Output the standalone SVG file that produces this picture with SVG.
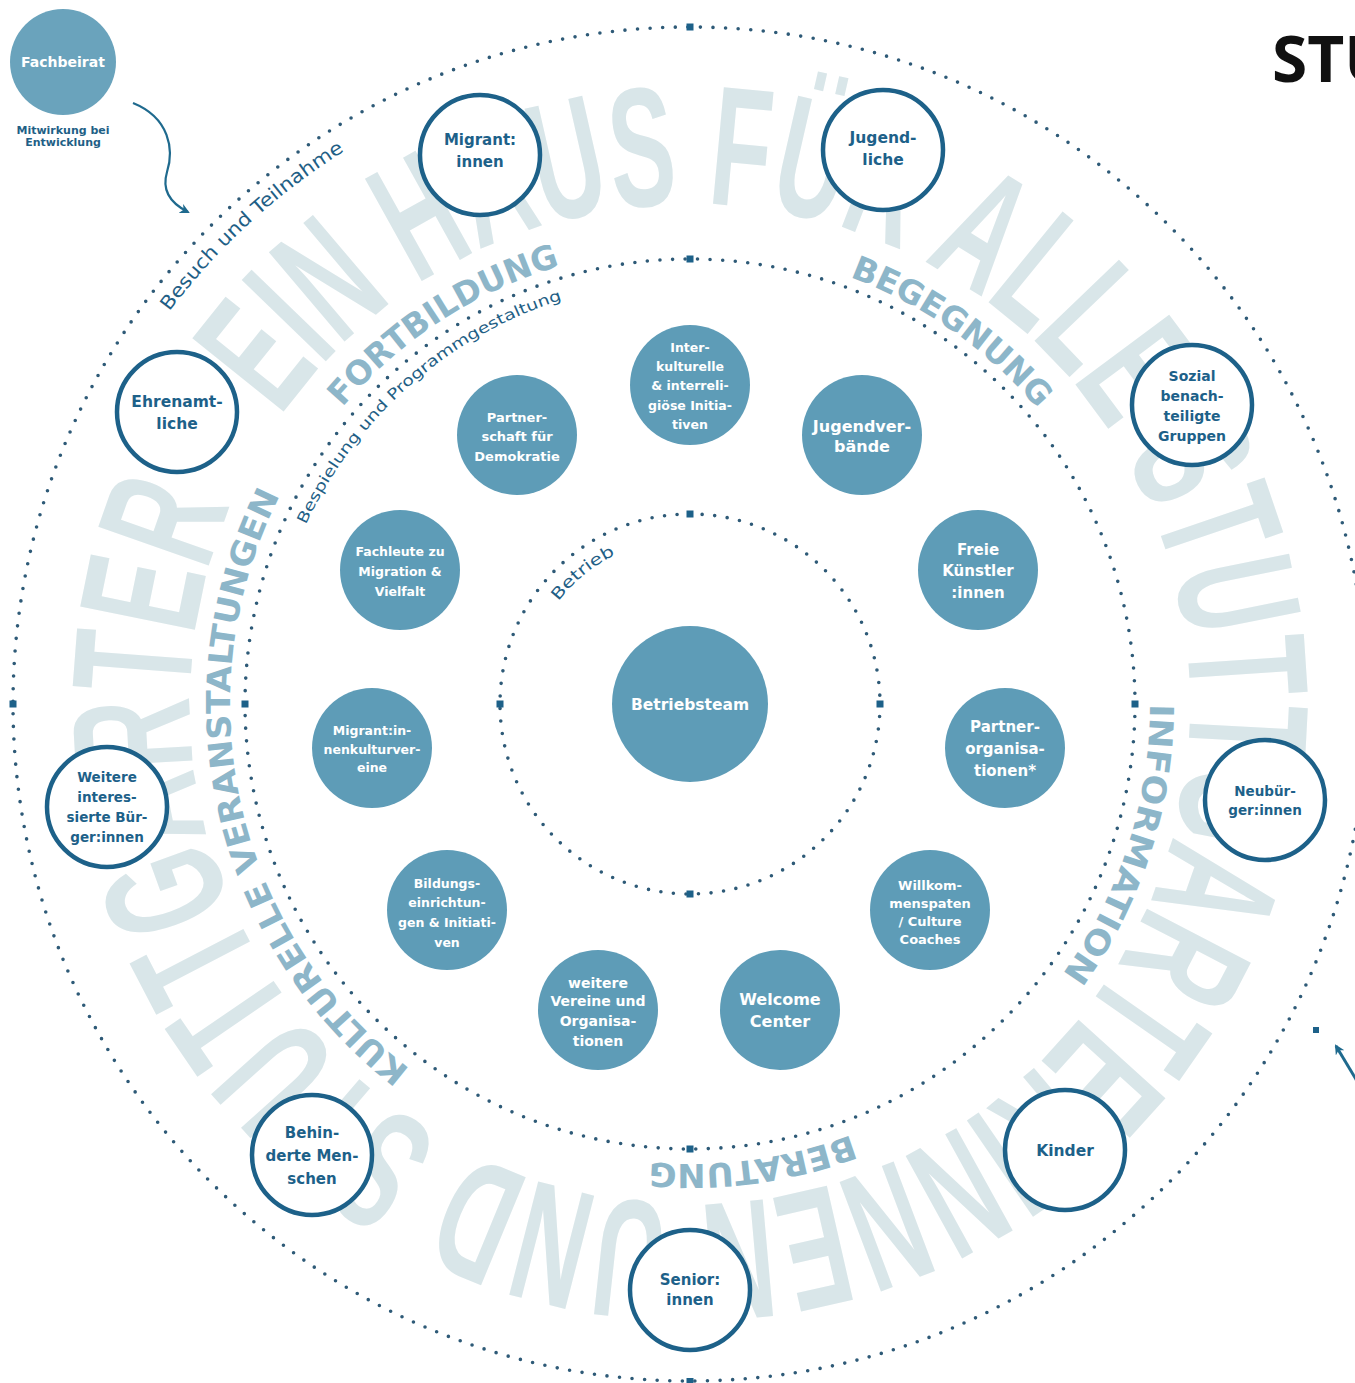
<svg xmlns="http://www.w3.org/2000/svg" width="1355" height="1383" viewBox="0 0 1355 1383">
<style>
.dot{fill:none;stroke:#2e5a77;stroke-width:3.6;stroke-linecap:round;stroke-dasharray:0 12.6}
.fn{fill:#5e9cb7}
.on{fill:#fff;stroke:#1d6189;stroke-width:4.5}
.nt{fill:#fff;font-family:"DejaVu Sans",sans-serif;font-weight:bold;text-anchor:middle}
.ot{fill:#1d6189;font-family:"DejaVu Sans",sans-serif;font-weight:bold;text-anchor:middle}
.big{fill:#d9e6e9;font-family:"Liberation Sans",sans-serif;font-weight:bold;font-size:170px}
.ring{fill:#8db6c9;font-family:"DejaVu Sans",sans-serif;font-weight:bold;font-size:33px}
.sm{fill:#1f5f86;font-family:"DejaVu Sans",sans-serif}
.sq{fill:#1d6189}
</style>
<defs>
<path id="pBig" d="M280.4,417.2 A500,500 0 1 1 1099.6,990.8 A500,500 0 1 1 280.4,417.2"/>
<path id="pBesuch" d="M169.3,311.6 A652,652 0 0 1 445.8,99.5"/>
<path id="pBesp" d="M305.7,524.8 A424,424 0 0 1 620,285.8"/>
<path id="pBetr" d="M558.4,601.2 A167,167 0 0 1 644,543.5"/>
<path id="pFort" d="M342.5,407.2 A457,457 0 0 1 637.5,250"/>
<path id="pBeg" d="M849.7,276.9 A456,456 0 0 1 1084.9,476"/>
<path id="pInfo" d="M1150,704 A460,460 0 0 1 1009.6,1034.9"/>
<path id="pBer" d="M851.1,1134.9 A460,460 0 0 1 571,1148.3"/>
<path id="pKult" d="M410,1069 A460,460 0 0 1 322.6,427.2"/>
<marker id="ah" viewBox="0 0 10 10" refX="8" refY="5" markerWidth="10" markerHeight="10" markerUnits="userSpaceOnUse" orient="auto">
<path d="M0,0 L10,5 L0,10 L3,5 Z" fill="#1f6a8e"/>
</marker>
</defs>
<rect width="1355" height="1383" fill="#fff"/>

<g id="background-text">
<text class="big"><textPath href="#pBig" textLength="3040" lengthAdjust="spacingAndGlyphs">EIN HAUS FÜR ALLE STUTTGARTERINNEN UND STUTTGARTER</textPath></text>
</g>

<g id="rings">
<circle class="dot" cx="690" cy="704" r="677"/>
<circle class="dot" cx="690" cy="704" r="445"/>
<circle class="dot" cx="690" cy="704" r="190"/>
<rect class="sq" x="686.5" y="23.5" width="7" height="7"/>
<rect class="sq" x="9.5" y="700.5" width="7" height="7"/>
<rect class="sq" x="686.5" y="1378" width="7" height="7"/>
<rect class="sq" x="686.5" y="255.5" width="7" height="7"/>
<rect class="sq" x="241.5" y="700.5" width="7" height="7"/>
<rect class="sq" x="1131.5" y="700.5" width="7" height="7"/>
<rect class="sq" x="686.5" y="1145.5" width="7" height="7"/>
<rect class="sq" x="686.5" y="510.5" width="7" height="7"/>
<rect class="sq" x="496.5" y="700.5" width="7" height="7"/>
<rect class="sq" x="876.5" y="700.5" width="7" height="7"/>
<rect class="sq" x="686.5" y="890.5" width="7" height="7"/>
</g>

<g id="ring-labels">
<text class="ring"><textPath href="#pFort" textLength="263" lengthAdjust="spacingAndGlyphs">FORTBILDUNG</textPath></text>
<text class="ring"><textPath href="#pBeg" textLength="232" lengthAdjust="spacingAndGlyphs">BEGEGNUNG</textPath></text>
<text class="ring"><textPath href="#pInfo" textLength="289" lengthAdjust="spacingAndGlyphs">INFORMATION</textPath></text>
<text class="ring"><textPath href="#pBer" textLength="205" lengthAdjust="spacingAndGlyphs">BERATUNG</textPath></text>
<text class="ring"><textPath href="#pKult" textLength="638" lengthAdjust="spacingAndGlyphs">KULTURELLE VERANSTALTUNGEN</textPath></text>
<text class="sm" font-size="19"><textPath href="#pBesuch" textLength="239" lengthAdjust="spacingAndGlyphs">Besuch und Teilnahme</textPath></text>
<text class="sm" font-size="15"><textPath href="#pBesp" textLength="351" lengthAdjust="spacingAndGlyphs">Bespielung und Programmgestaltung</textPath></text>
<text class="sm" font-size="16"><textPath href="#pBetr" textLength="74" lengthAdjust="spacingAndGlyphs">Betrieb</textPath></text>
</g>

<g id="connectors">
<path d="M133,103 C170,118 174,150 167,172 C161,192 172,204 188,212" fill="none" stroke="#1f6a8e" stroke-width="2.2" marker-end="url(#ah)"/>
<path d="M1360,1086 L1336,1046" fill="none" stroke="#1f6a8e" stroke-width="3" marker-end="url(#ah)"/>
<rect class="sq" x="1313" y="1027" width="6" height="6"/>
</g>

<g id="fachbeirat">
<circle cx="63" cy="62" r="53" fill="#6aa3bc"/>
<text class="nt" x="63" y="67" font-size="14">Fachbeirat</text>
<text class="sm" x="63" y="134" font-size="11" font-weight="bold" text-anchor="middle">Mitwirkung bei</text>
<text class="sm" x="63" y="146" font-size="11" font-weight="bold" text-anchor="middle">Entwicklung</text>
</g>

<g id="stu">
<text x="1272" y="82" font-family="'Open Sans',sans-serif" font-weight="bold" font-size="64" fill="#111">STU</text>
</g>

<g id="betriebsteam">
<circle class="fn" cx="690" cy="704" r="78"/>
<text class="nt" x="690" y="710" font-size="15.5">Betriebsteam</text>
</g>

<g id="interkulturelle">
<circle class="fn" cx="690" cy="385" r="60"/>
<text class="nt" font-size="12.5"><tspan x="690" y="352">Inter-</tspan><tspan x="690" y="371">kulturelle</tspan><tspan x="690" y="390">&amp; interreli-</tspan><tspan x="690" y="410">giöse Initia-</tspan><tspan x="690" y="429">tiven</tspan></text>
</g>
<g id="jugendverbaende">
<circle class="fn" cx="862" cy="435" r="60"/>
<text class="nt" font-size="16"><tspan x="862" y="432">Jugendver-</tspan><tspan x="862" y="452">bände</tspan></text>
</g>
<g id="freie-kuenstler">
<circle class="fn" cx="978" cy="570" r="60"/>
<text class="nt" font-size="15"><tspan x="978" y="555">Freie</tspan><tspan x="978" y="576">Künstler</tspan><tspan x="978" y="598">:innen</tspan></text>
</g>
<g id="partnerorganisationen">
<circle class="fn" cx="1005" cy="748" r="60"/>
<text class="nt" font-size="15"><tspan x="1005" y="732">Partner-</tspan><tspan x="1005" y="754">organisa-</tspan><tspan x="1005" y="776">tionen*</tspan></text>
</g>
<g id="willkommenspaten">
<circle class="fn" cx="930" cy="910" r="60"/>
<text class="nt" font-size="13"><tspan x="930" y="890">Willkom-</tspan><tspan x="930" y="908">menspaten</tspan><tspan x="930" y="926">/ Culture</tspan><tspan x="930" y="944">Coaches</tspan></text>
</g>
<g id="welcome-center">
<circle class="fn" cx="780" cy="1010" r="60"/>
<text class="nt" font-size="16"><tspan x="780" y="1005">Welcome</tspan><tspan x="780" y="1027">Center</tspan></text>
</g>
<g id="weitere-vereine">
<circle class="fn" cx="598" cy="1010" r="60"/>
<text class="nt" font-size="14"><tspan x="598" y="988">weitere</tspan><tspan x="598" y="1006">Vereine und</tspan><tspan x="598" y="1026">Organisa-</tspan><tspan x="598" y="1046">tionen</tspan></text>
</g>
<g id="bildungseinrichtungen">
<circle class="fn" cx="447" cy="910" r="60"/>
<text class="nt" font-size="12.5"><tspan x="447" y="888">Bildungs-</tspan><tspan x="447" y="907">einrichtun-</tspan><tspan x="447" y="927">gen &amp; Initiati-</tspan><tspan x="447" y="947">ven</tspan></text>
</g>
<g id="migrantinnenkulturvereine">
<circle class="fn" cx="372" cy="748" r="60"/>
<text class="nt" font-size="12.5"><tspan x="372" y="735">Migrant:in-</tspan><tspan x="372" y="754">nenkulturver-</tspan><tspan x="372" y="772">eine</tspan></text>
</g>
<g id="fachleute">
<circle class="fn" cx="400" cy="570" r="60"/>
<text class="nt" font-size="12.5"><tspan x="400" y="556">Fachleute zu</tspan><tspan x="400" y="576">Migration &amp;</tspan><tspan x="400" y="596">Vielfalt</tspan></text>
</g>
<g id="partnerschaft-demokratie">
<circle class="fn" cx="517" cy="435" r="60"/>
<text class="nt" font-size="13"><tspan x="517" y="422">Partner-</tspan><tspan x="517" y="441">schaft für</tspan><tspan x="517" y="461">Demokratie</tspan></text>
</g>

<g id="migrantinnen">
<circle class="on" cx="480" cy="155" r="60"/>
<text class="ot" font-size="15"><tspan x="480" y="145">Migrant:</tspan><tspan x="480" y="167">innen</tspan></text>
</g>
<g id="jugendliche">
<circle class="on" cx="883" cy="150" r="60"/>
<text class="ot" font-size="15.5"><tspan x="883" y="143">Jugend-</tspan><tspan x="883" y="165">liche</tspan></text>
</g>
<g id="ehrenamtliche">
<circle class="on" cx="177" cy="412" r="60"/>
<text class="ot" font-size="15.5"><tspan x="177" y="407">Ehrenamt-</tspan><tspan x="177" y="429">liche</tspan></text>
</g>
<g id="sozial-benachteiligte">
<circle class="on" cx="1192" cy="405" r="60"/>
<text class="ot" font-size="14"><tspan x="1192" y="381">Sozial</tspan><tspan x="1192" y="401">benach-</tspan><tspan x="1192" y="421">teiligte</tspan><tspan x="1192" y="441">Gruppen</tspan></text>
</g>
<g id="weitere-buerger">
<circle class="on" cx="107" cy="807" r="60"/>
<text class="ot" font-size="13.5"><tspan x="107" y="782">Weitere</tspan><tspan x="107" y="802">interes-</tspan><tspan x="107" y="822">sierte Bür-</tspan><tspan x="107" y="842">ger:innen</tspan></text>
</g>
<g id="neubuerger">
<circle class="on" cx="1265" cy="800" r="60"/>
<text class="ot" font-size="13.5"><tspan x="1265" y="796">Neubür-</tspan><tspan x="1265" y="815">ger:innen</tspan></text>
</g>
<g id="behinderte">
<circle class="on" cx="312" cy="1155" r="60"/>
<text class="ot" font-size="15"><tspan x="312" y="1138">Behin-</tspan><tspan x="312" y="1161">derte Men-</tspan><tspan x="312" y="1184">schen</tspan></text>
</g>
<g id="kinder">
<circle class="on" cx="1065" cy="1150" r="60"/>
<text class="ot" font-size="15.5" x="1065" y="1156">Kinder</text>
</g>
<g id="seniorinnen">
<circle class="on" cx="690" cy="1290" r="60"/>
<text class="ot" font-size="15"><tspan x="690" y="1285">Senior:</tspan><tspan x="690" y="1305">innen</tspan></text>
</g>
</svg>
